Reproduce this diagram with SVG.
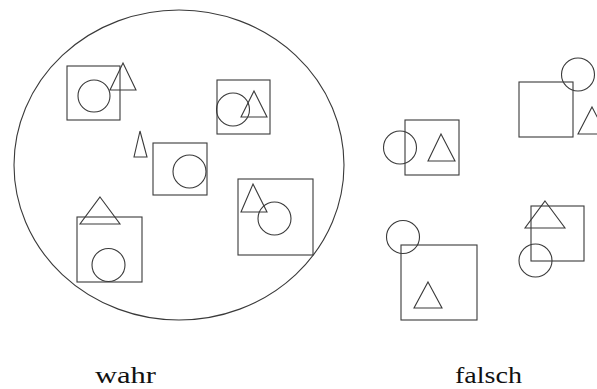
<svg xmlns="http://www.w3.org/2000/svg" width="597" height="389" viewBox="0 0 597 389">
<style>
.s{fill:none;stroke:#3a3a3a;stroke-width:1.1}
.t{font-family:"Liberation Serif","DejaVu Serif",serif;font-size:24px;fill:#111}
</style>
<rect width="597" height="389" fill="#fff"/>
<g id="set-circle"><ellipse class="s" cx="179" cy="165" rx="165" ry="155"/></g>
<g id="wahr-1"><rect class="s" x="67" y="66" width="53" height="54"/><circle class="s" cx="94" cy="96" r="16"/><polygon class="s" points="123,63 136,90 110,90"/></g>
<g id="wahr-2"><polygon class="s" points="140,131 147,157 134,157"/></g>
<g id="wahr-3"><rect class="s" x="153" y="143" width="54" height="52"/><circle class="s" cx="189.5" cy="171.5" r="16.5"/></g>
<g id="wahr-4"><rect class="s" x="217" y="80" width="53" height="54"/><circle class="s" cx="233" cy="109.5" r="16.5"/><polygon class="s" points="254,91 267,117 241,117"/></g>
<g id="wahr-5"><rect class="s" x="238" y="179" width="75" height="76"/><polygon class="s" points="253,184 267,212 241,212"/><circle class="s" cx="274.5" cy="218.5" r="16.5"/></g>
<g id="wahr-6"><rect class="s" x="77" y="217" width="65" height="65"/><polygon class="s" points="100,197 120,224 80,224"/><circle class="s" cx="108.5" cy="265" r="16.5"/></g>
<g id="falsch-1"><rect class="s" x="405" y="120" width="54" height="55"/><circle class="s" cx="400" cy="147.5" r="16.5"/><polygon class="s" points="441,134 455,161 428,161"/></g>
<g id="falsch-2"><rect class="s" x="519" y="82" width="54" height="55"/><circle class="s" cx="578" cy="74.5" r="16.5"/><polygon class="s" points="592,107 606,134 578,134"/></g>
<g id="falsch-3"><circle class="s" cx="403" cy="237" r="16.5"/><rect class="s" x="401" y="245" width="76" height="75"/><polygon class="s" points="428,282 442,308 414,308"/></g>
<g id="falsch-4"><rect class="s" x="531" y="206" width="53" height="55"/><polygon class="s" points="545,201 565,228 525,228"/><circle class="s" cx="535.5" cy="260.5" r="16.5"/></g>
<g id="labels">
<text class="t" x="95" y="383" textLength="61" lengthAdjust="spacingAndGlyphs">wahr</text>
<text class="t" x="455" y="383" textLength="67" lengthAdjust="spacingAndGlyphs">falsch</text>
</g>
<g id="connectors"/>
</svg>
